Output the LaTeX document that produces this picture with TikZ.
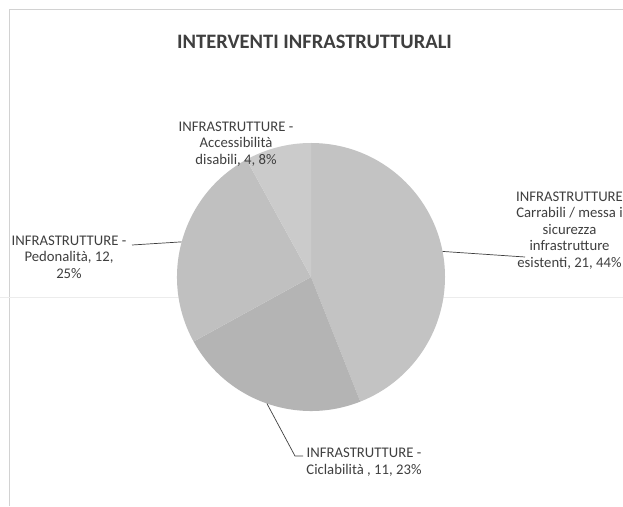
\documentclass[tikz,border=0pt]{standalone}
\usepackage{fontspec}
\setmainfont{Carlito}
\usepackage{xcolor}
\usetikzlibrary{calc}
\definecolor{txtgray}{HTML}{3F3F3F}
\definecolor{slcarr}{HTML}{C3C3C3}
\definecolor{slcicl}{HTML}{B4B4B4}
\definecolor{slpedo}{HTML}{C0C0C0}
\definecolor{slacce}{HTML}{CBCBCB}
\tikzset{pielbl/.style={align=center,text=txtgray,inner sep=0pt,
    font=\fontsize{14.7}{16.5}\selectfont}}
\tikzset{pielead/.style={draw=txtgray,line width=0.7pt}}

\begin{document}
\begin{tikzpicture}[x=1pt,y=1pt]
  \useasboundingbox (0,0) rectangle (623,506);
  \clip (0,0) rectangle (623,506);
  \fill[white] (0,0) rectangle (623,506);

  % chart frame
  \draw[gray!35,line width=1pt] (9,0) -- (9,496) -- (623,496);
  \draw[gray!15,line width=0.8pt] (0,209) -- (623,209);

  \def\r{134}
  \def\aa{90}
  \def\ab{-68.4}
  \def\ac{-151.2}
  \def\ad{-241.2}
  \def\ae{-270}
  \coordinate (o) at (311,229);

  \fill[slcarr] (o) -- ++(\aa:\r) arc (\aa:\ab:\r) -- cycle;
  \fill[slcicl] (o) -- ++(\ab:\r) arc (\ab:\ac:\r) -- cycle;
  \fill[slpedo] (o) -- ++(\ac:\r) arc (\ac:\ad:\r) -- cycle;
  \fill[slacce] (o) -- ++(\ad:\r) arc (\ad:\ae:\r) -- cycle;

  \node[font=\fontsize{20.5}{24}\selectfont\bfseries,text=txtgray] (title) at (314.5,464) {INTERVENTI INFRASTRUTTURALI};

  \node[pielbl] (lblacce) at (236,362) {INFRASTRUTTURE -\\Accessibilità\\disabili, 4, 8\%};
  \node[pielbl] (lblcarr) at (569.5,275.5) {INFRASTRUTTURE\\Carrabili / messa i\\sicurezza\\infrastrutture\\esistenti, 21, 44\%};
  \node[pielbl] (lblpedo) at (69,249) {INFRASTRUTTURE -\\Pedonalità, 12,\\25\%};
  \node[pielbl] (lblcicl) at (364,44) {INFRASTRUTTURE -\\Ciclabilità , 11, 23\%};

  \coordinate (ecarr) at ($(o)+(11:\r)$);
  \coordinate (tcarr) at (525,249);
  \coordinate (epedo) at ($(o)+(164.8:\r)$);
  \coordinate (tpedo) at (132,261);
  \coordinate (ecicl) at ($(o)+(250.8:\r)$);
  \coordinate (kcicl) at (295,50);
  \coordinate (tcicl) at (303,50);

  \draw[pielead] (ecarr) -- (tcarr);
  \draw[pielead] (epedo) -- (tpedo);
  \draw[pielead] (ecicl) -- (kcicl) -- (tcicl);
\end{tikzpicture}
\end{document}
